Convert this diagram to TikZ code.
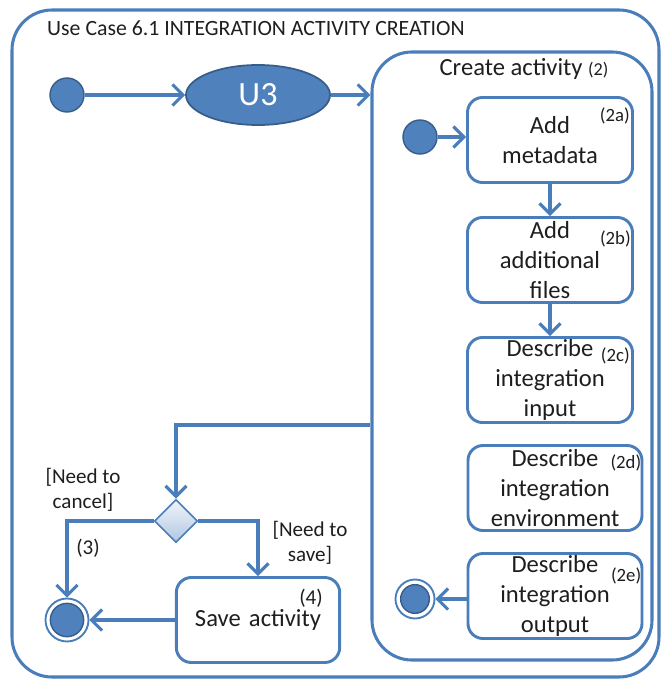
\documentclass[tikz,border=0pt]{standalone}
\usepackage{fontspec}
\setmainfont{Carlito}
\usetikzlibrary{arrows.meta,shapes.geometric}
\definecolor{uline}{HTML}{4A7EBB}
\definecolor{ufill}{HTML}{4F81BD}
\definecolor{udark}{HTML}{385D8A}
\definecolor{utext}{HTML}{1E1E1E}

\begin{document}
\begin{tikzpicture}[x=0.03cm, y=-0.03cm, text=utext,
	flow/.style = {draw=uline, line width=2.8pt, -{Straight Barb[length=9pt, width=18pt, line width=2.6pt]}},
	frame/.style = {draw=uline, line width=2.6pt, rounded corners=1.2cm},
	act/.style = {draw=uline, line width=2.5pt, rounded corners=0.45cm, minimum height=2.55cm, text width=4.5cm, align=center, inner sep=0pt, font=\fontsize{21}{25.5}\selectfont},
	tag/.style = {font=\fontsize{16}{18}\selectfont, inner sep=0pt},
	guard/.style = {font=\fontsize{18}{21.5}\selectfont, align=center, inner sep=0pt},
	begin/.style = {circle, fill=ufill, draw=udark, line width=1.2pt, inner sep=0pt, minimum size=1.02cm},
	finish/.style args = {#1/#2}{circle, draw=uline, line width=1.6pt, fill=white, inner sep=0pt, minimum size=#1,
		path picture={\filldraw[fill=ufill, draw=udark, line width=1.2pt] (path picture bounding box.center) circle (#2);}}
	]
	\useasboundingbox (0,0) rectangle (665,679);
	\draw[frame] (12,10) rectangle (659,677);
	\node[anchor=west, font=\fontsize{18.6}{20}\selectfont, inner sep=0pt] (title) at (47,28) {Use Case 6.1 INTEGRATION ACTIVITY CREATION};

	\node[begin] (start) at (67,95) {};
	\node[ellipse, fill=ufill, draw=udark, line width=1.5pt, minimum width=4.32cm, minimum height=1.8cm, text=white, font=\fontsize{29}{30}\selectfont] (u3) at (258,95) {U3};

	\node[frame, rectangle, minimum width=8.4cm, minimum height=18.24cm] (create) at (512,356) {};
	\node[font=\fontsize{21}{22}\selectfont, inner sep=0pt] (createlbl) at (524,69) {Create activity {\fontsize{15.5}{17}\selectfont(2)}};

	\node[begin] (istart) at (420,137) {};
	\node[act, minimum width=4.95cm] (m2a) at (550,140) {Add\\metadata};
	\node[act, minimum width=4.95cm] (m2b) at (550,260) {Add\\additional\\files};
	\node[act, minimum width=4.95cm] (m2c) at (550,380) {Describe\\integration\\input};
	\node[act, minimum width=5.22cm] (m2d) at (555,488) {Describe\\integration\\environment};
	\node[act, minimum width=5.22cm] (m2e) at (555,596) {Describe\\integration\\output};
	\node[finish=1.17cm/0.43cm] (iend) at (415,599) {};

	\node[tag, anchor=east] (t2a) at ([shift={(-4,20)}]m2a.north east) {(2a)};
	\node[tag, anchor=east] (t2b) at ([shift={(-3,23)}]m2b.north east) {(2b)};
	\node[tag, anchor=east] (t2c) at ([shift={(-4,20)}]m2c.north east) {(2c)};
	\node[tag, anchor=east] (t2d) at ([shift={(-2,19)}]m2d.north east) {(2d)};
	\node[tag, anchor=east] (t2e) at ([shift={(-2,24)}]m2e.north east) {(2e)};

	\node[diamond, draw=uline, line width=1.4pt, top color=ufill!8!white, bottom color=ufill!45!white, minimum width=1.3cm, minimum height=1.3cm, inner sep=0pt] (dec) at (176,521) {};
	\node[act, minimum width=4.9cm] (save) at (258,620) {Save activity};
	\node[finish=1.29cm/0.5cm] (end) at (67,620) {};
	\coordinate (exit) at (create.west |- 0,425);

	\node[guard] (cancel) at (83,490) {[Need to\\cancel]};
	\node[guard] (three) at (88,548) {(3)};
	\node[guard] (keep) at (310,543) {[Need to\\save]};
	\node[guard] (four) at (311,598) {(4)};

	\draw[flow] (start) -- (u3);
	\draw[flow] (u3) -- (u3 -| create.west);
	\draw[flow] (istart) -- (istart -| m2a.west);
	\draw[flow] (m2a) -- (m2b);
	\draw[flow] (m2b) -- (m2c);
	\draw[flow] (iend -| m2e.west) -- (iend);
	\draw[flow] (exit) -| (dec);
	\draw[flow] (dec.west) -| (end);
	\draw[flow] (dec.east) -| (save);
	\draw[flow] (save) -- (end);
\end{tikzpicture}
\end{document}
